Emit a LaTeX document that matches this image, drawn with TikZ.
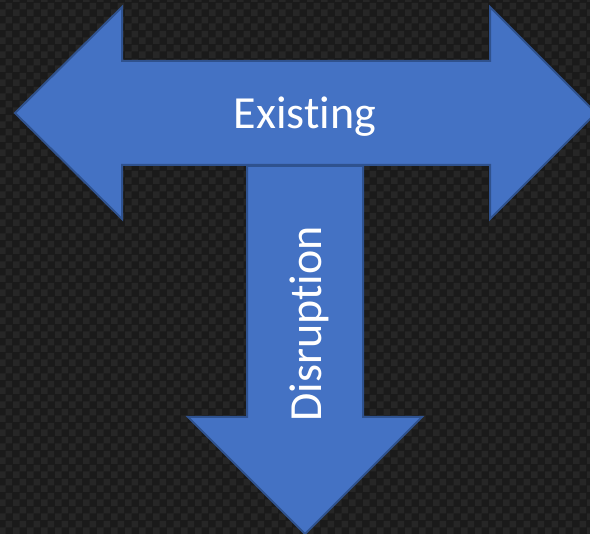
\documentclass[tikz,border=0pt]{standalone}
\usepackage{fontspec}
\setmainfont[RawFeature=-liga]{Carlito}
\usetikzlibrary{patterns}

\definecolor{slide}{HTML}{1A1A1A}
\definecolor{checkgrey}{HTML}{262626}
\definecolor{fillblue}{HTML}{4472C4}
\definecolor{edgeblue}{HTML}{2F528F}

\pgfdeclarepatternformonly{slidechecks}{\pgfpointorigin}{\pgfpoint{14pt}{14pt}}{\pgfpoint{14pt}{14pt}}{
    \pgfpathrectangle{\pgfpointorigin}{\pgfpoint{7pt}{7pt}}
    \pgfpathrectangle{\pgfpoint{7pt}{7pt}}{\pgfpoint{7pt}{7pt}}
    \pgfusepath{fill}
}

\tikzset{
    arrowshape/.style = {fill = fillblue, draw = edgeblue, line width = 2pt, line join = miter},
    word/.style = {text = white, font = \fontsize{46}{54}\selectfont, inner sep = 0pt}
}

\begin{document}
\begin{tikzpicture}[x = 1pt, y = -1pt]
    \useasboundingbox (0,0) rectangle (590,534);
    \clip (0,0) rectangle (590,534);
    \fill[slide] (0,0) rectangle (590,534);
    \fill[pattern = slidechecks, pattern color = checkgrey] (0,0) rectangle (590,534);
    % downward arrow
    \draw[arrowshape] (247,166) -- (363,166) -- (363,417) -- (422,417)
        -- (305,534) -- (188,417) -- (247,417) -- cycle;
    % double arrow across the top
    \draw[arrowshape] (15,113) -- (122,7) -- (122,61) -- (490,61) -- (490,7)
        -- (596,113) -- (490,219) -- (490,165) -- (122,165) -- (122,219) -- cycle;
    \node[word] (E) at (305,117) {Existing};
    \node[word, rotate = 90] (D) at (309,324) {Disruption};
\end{tikzpicture}
\end{document}
